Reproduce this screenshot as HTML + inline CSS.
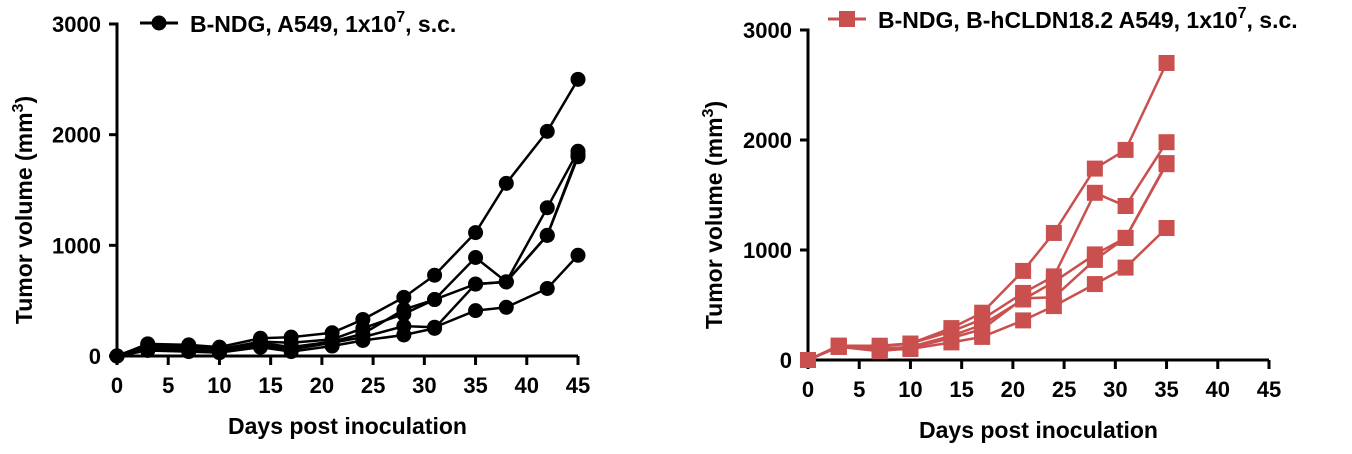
<!DOCTYPE html>
<html><head><meta charset="utf-8"><style>
body{margin:0;background:#fff;}
svg{display:block;font-family:"Liberation Sans",Arial,sans-serif;font-weight:bold;}
</style></head><body>
<svg id="chart" width="1352" height="454" viewBox="0 0 1352 454">
<g id="left"></g>
<g id="right"></g>
</svg>
<script>
const leftDays=[0,3,7,10,14,17,21,24,28,31,35,38,42,45];
const leftS1=[0,110,100,80,160,170,210,330,530,730,1115,1560,2030,2500];
const leftS2=[0,100,90,60,130,120,150,250,380,510,890,670,1340,1850];
const leftS3=[0,80,70,50,120,80,130,200,420,510,650,670,1090,1820];
const leftS4=[0,60,60,40,100,60,120,170,270,260,410,440,610,910];
const leftS5=[0,50,40,30,80,40,90,140,190,250,650,670,1090,1800];
const rightDays=[0,3,7,10,14,17,21,24,28,31,35];
const rightS1=[0,130,130,150,290,430,810,1155,1740,1910,2700];
const rightS2=[0,130,120,150,260,370,610,760,1520,1400,1980];
const rightS3=[0,120,100,120,220,320,550,710,960,1110,1780];
const rightS4=[0,120,80,110,200,280,560,570,910,1110,1790];
const rightS5=[0,120,90,100,160,210,360,490,690,840,1200];
const xTicks=[0,5,10,15,20,25,30,35,40,45];
const yTicks=[0,1000,2000,3000];
const NS="http://www.w3.org/2000/svg";
function mk(parent,tag,attrs){const e=document.createElementNS(NS,tag);for(const k in attrs)e.setAttribute(k,attrs[k]);parent.appendChild(e);return e;}
function drawChart(g,cfg){
  const sx=d=>cfg.x0+(d/45)*(cfg.x1-cfg.x0);
  const sy=v=>cfg.y0-(v/3000)*(cfg.y0-cfg.y1);
  const ax=mk(g,'path',{d:`M${cfg.x0-8} ${cfg.y1}H${cfg.x0}V${cfg.y0}H${cfg.x1}`,stroke:'#000','stroke-width':3,fill:'none'});
  
  
  yTicks.forEach(v=>{
    const t=mk(g,'line',{x1:cfg.x0-8,x2:cfg.x0,y1:sy(v),y2:sy(v),stroke:'#000','stroke-width':3});
    
    
    const l=mk(g,'text',{x:cfg.x0-16,y:sy(v)+8,'text-anchor':'end','font-size':22});
    l.textContent=v;
    
    
  });
  xTicks.forEach(d=>{
    const t=mk(g,'line',{x1:sx(d),x2:sx(d),y1:cfg.y0,y2:cfg.y0+9,stroke:'#000','stroke-width':3});
    
    
    const l=mk(g,'text',{x:sx(d),y:cfg.y0+37,'text-anchor':'middle','font-size':22});
    l.textContent=d;
    
    
  });
  const xt=mk(g,'text',{x:(cfg.x0+cfg.x1)/2,y:cfg.y0+78,'text-anchor':'middle','font-size':23});
  xt.textContent='Days post inoculation';
  
  
  const cy=(cfg.y0+cfg.y1)/2+20;
  const yt=mk(g,'text',{x:cfg.ytx,y:cy,'text-anchor':'middle','font-size':23,transform:`rotate(-90 ${cfg.ytx} ${cy})`});
  yt.innerHTML='Tumor volume (mm<tspan dy="-9" font-size="16">3</tspan><tspan dy="9">)</tspan>';
  
  
  cfg.series.forEach((s,i)=>{
    const pts=s.map((v,j)=>sx(cfg.days[j])+','+sy(v)).join(' ');
    const pl=mk(g,'polyline',{points:pts,fill:'none',stroke:cfg.color,'stroke-width':2.5});
    
    
    s.forEach((v,j)=>{
      let m;
      if(cfg.square) m=mk(g,'rect',{x:sx(cfg.days[j])-8,y:sy(v)-8,width:16,height:16,fill:cfg.color});
      else m=mk(g,'circle',{cx:sx(cfg.days[j]),cy:sy(v),r:7.5,fill:cfg.color});
      
      
    });
  });
  const lg=mk(g,'g',{});
  
  
  mk(lg,'line',{x1:cfg.lx,x2:cfg.lx+38,y1:cfg.ly,y2:cfg.ly,stroke:cfg.color,'stroke-width':3});
  if(cfg.square) mk(lg,'rect',{x:cfg.lx+11,y:cfg.ly-8,width:16,height:16,fill:cfg.color});
  else mk(lg,'circle',{cx:cfg.lx+19,cy:cfg.ly,r:7.5,fill:cfg.color});
  const lt=mk(lg,'text',{x:cfg.lx+50,y:cfg.ly+9,'font-size':23,fill:'#000'});
  lt.innerHTML=cfg.label+', 1x10<tspan dy="-10" font-size="16">7</tspan><tspan dy="10">, s.c.</tspan>';
}
drawChart(document.getElementById('left'),{x0:117,x1:578,y0:356,y1:24,ytx:32,days:leftDays,series:[leftS1,leftS2,leftS3,leftS4,leftS5],color:'#000',square:false,lx:140,ly:23,label:'B-NDG, A549'});
drawChart(document.getElementById('right'),{x0:808,x1:1269,y0:360,y1:30,ytx:722,days:rightDays,series:[rightS1,rightS2,rightS3,rightS4,rightS5],color:'#c9504f',square:true,lx:828,ly:19,label:'B-NDG, B-hCLDN18.2 A549'});
</script>
</body></html>
